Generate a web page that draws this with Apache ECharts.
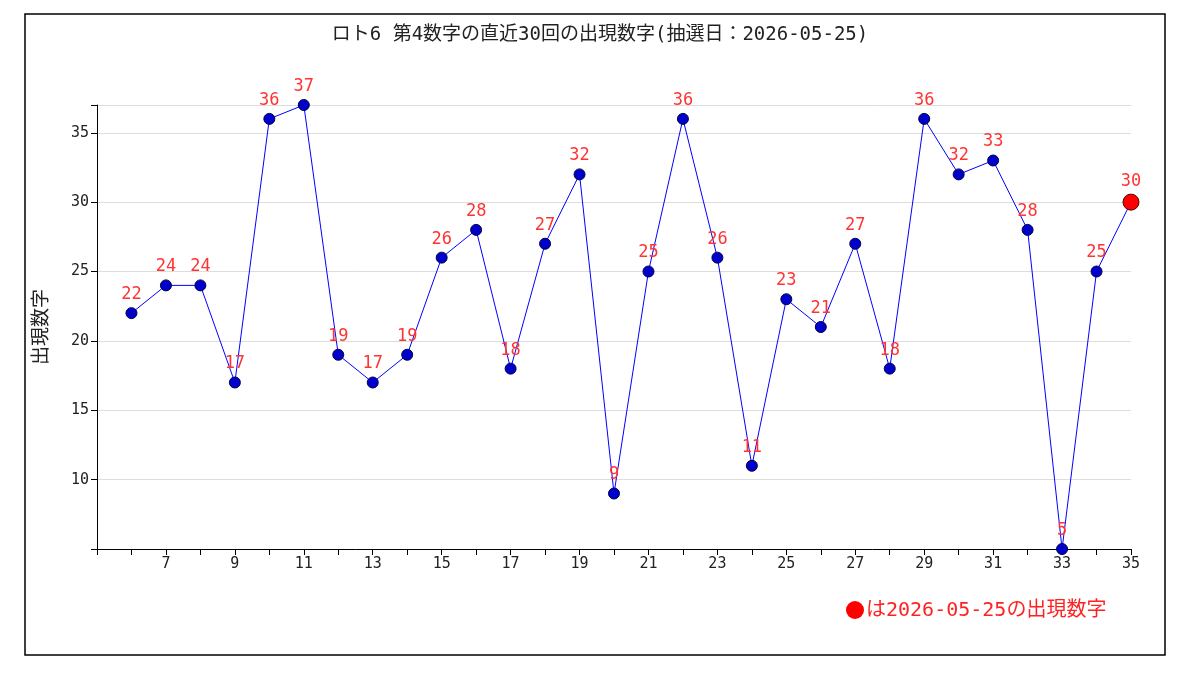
<!DOCTYPE html>
<html><head><meta charset="utf-8">
<script src="https://cdn.jsdelivr.net/npm/echarts@6/dist/echarts.min.js"></script>
<style>html,body{margin:0;background:#fff}#c{width:1200px;height:679px}</style>
</head><body><div id="c"></div>
<script>
const draws = [6,7,8,9,10,11,12,13,14,15,16,17,18,19,20,21,22,23,24,25,26,27,28,29,30,31,32,33,34,35];
const values = [22,24,24,17,36,37,19,17,19,26,28,18,27,32,9,25,36,26,11,23,21,27,18,36,32,33,28,5,25,30];
const titleText = "ロト6 第4数字の直近30回の出現数字(抽選日：2026-05-25)";
const legendText = "は2026-05-25の出現数字";
const font = "'DejaVu Sans Mono','Noto Sans CJK JP',monospace";
const data = draws.map((d,i)=>{
  const last = i===draws.length-1;
  return last ? {value:[d,values[i]], symbolSize:16, itemStyle:{color:'#ff0000',borderColor:'#550000',borderWidth:1}} : [d,values[i]];
});
const chart = echarts.init(document.getElementById('c'));
chart.setOption({
  animation:false,
  title:{text:titleText,left:'center',top:21,textStyle:{fontFamily:font,fontSize:19,fontWeight:'normal',color:'#222'}},
  grid:{left:97,right:69,top:105,bottom:130},
  xAxis:{type:'value',min:5,max:35,interval:1,
    axisLine:{lineStyle:{color:'#000'}},axisTick:{lineStyle:{color:'#000'},length:6},
    splitLine:{show:false},
    axisLabel:{fontFamily:font,fontSize:15,color:'#222',formatter:v=>(v%2===1&&v>=7)?String(v):''}},
  yAxis:{type:'value',min:5,max:37,interval:5,name:'出現数字',nameLocation:'middle',nameGap:45,
    nameTextStyle:{fontFamily:font,fontSize:19,color:'#222'},
    axisLine:{show:true,lineStyle:{color:'#000'}},axisTick:{show:true,lineStyle:{color:'#000'},length:6},
    splitLine:{lineStyle:{color:'#dddddd'}},
    axisLabel:{fontFamily:font,fontSize:15,color:'#222',formatter:v=>v%5===0&&v>=10?String(v):''}},
  series:[{type:'line',data:data,symbol:'circle',symbolSize:11,
    lineStyle:{color:'#0000ff',width:1},
    itemStyle:{color:'#0000cc',borderColor:'#000044',borderWidth:1},
    label:{show:true,position:'top',distance:4,color:'#ff3333',fontFamily:font,fontSize:17,formatter:p=>p.value[1]}}],
  graphic:[
    {type:'rect',shape:{x:25,y:14,width:1140,height:641},style:{fill:'none',stroke:'#000',lineWidth:1.5}},
    {type:'circle',shape:{cx:855,cy:610,r:9},style:{fill:'#ff0000'}},
    {type:'text',x:866,y:611,style:{text:legendText,fill:'#ff2222',font:"20px "+font,textVerticalAlign:'middle'}}
  ]
});
</script></body></html>
